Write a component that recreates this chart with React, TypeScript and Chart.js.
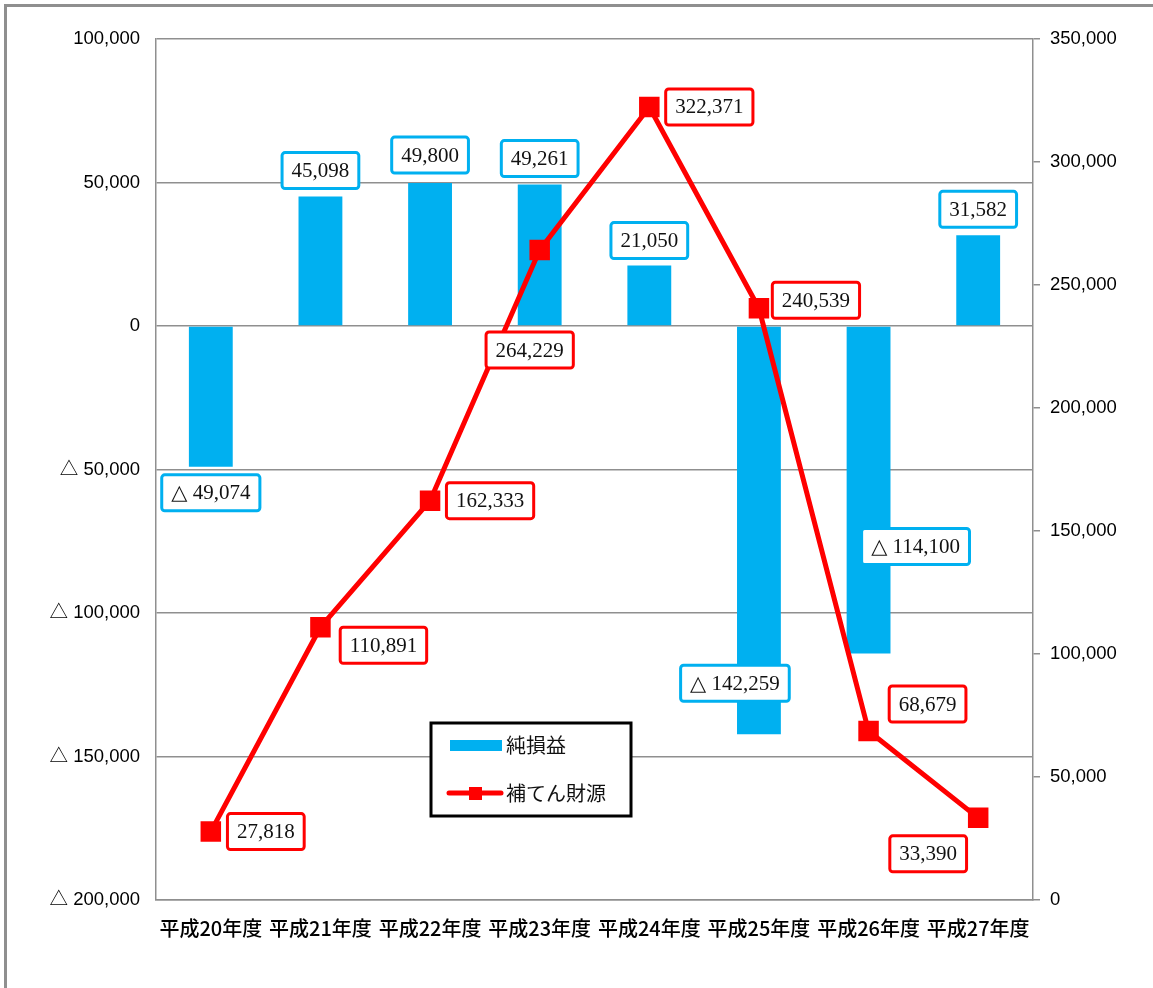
import React, { useEffect, useRef } from "react";
import { Chart, registerables } from "chart.js";

Chart.register(...registerables);

const categories = ["平成20年度", "平成21年度", "平成22年度", "平成23年度", "平成24年度", "平成25年度", "平成26年度", "平成27年度"];
const netProfit = [-49074, 45098, 49800, 49261, 21050, -142259, -114100, 31582];
const reserveFunds = [27818, 110891, 162333, 264229, 322371, 240539, 68679, 33390];
const leftTicks = [-200000, -150000, -100000, -50000, 0, 50000, 100000];
const rightTicks = [0, 50000, 100000, 150000, 200000, 250000, 300000, 350000];
const seriesNames = ["純損益", "補てん財源"];

// label offsets (pixels) relative to each mark
const barLabelOffsets = [[0, 26], [0, -26], [0, -28], [0, -26], [0, -25], [-24, -51], [47, -107], [0, -26]];
const lineLabelOffsets = [[55, 0], [63, 18], [60, 0], [-10, 100], [60, 0], [57, -8], [59, -27], [-50, 36]];

const BLUE = "#00B0F0";
const RED = "#FF0000";
const GRID = "#8f8f8f";

const fmt = (v: number) => {
  const s = Math.abs(v).toLocaleString("en-US");
  return v < 0 ? "△ " + s : s;
};

const labelPlugin = {
  id: "boxLabels",
  afterDatasetsDraw(chart: any) {
    const ctx = chart.ctx;
    const drawBox = (cx: number, cy: number, text: string, color: string) => {
      ctx.save();
      ctx.font = '21px "Liberation Serif", "DejaVu Serif", serif';
      const tw = ctx.measureText(text).width;
      const w = tw + 19;
      const h = 36;
      const x = cx - w / 2;
      const y = cy - h / 2;
      ctx.beginPath();
      if (ctx.roundRect) ctx.roundRect(x, y, w, h, 3);
      else ctx.rect(x, y, w, h);
      ctx.fillStyle = "#ffffff";
      ctx.fill();
      ctx.lineWidth = 3;
      ctx.strokeStyle = color;
      ctx.stroke();
      ctx.fillStyle = "#111111";
      ctx.textAlign = "center";
      ctx.textBaseline = "middle";
      ctx.fillText(text, cx, cy + 1);
      ctx.restore();
    };
    const barMeta = chart.getDatasetMeta(0);
    barMeta.data.forEach((el: any, i: number) => {
      const [dx, dy] = barLabelOffsets[i];
      drawBox(el.x + dx, el.y + dy, fmt(netProfit[i]), BLUE);
    });
    const lineMeta = chart.getDatasetMeta(1);
    lineMeta.data.forEach((el: any, i: number) => {
      const [dx, dy] = lineLabelOffsets[i];
      drawBox(el.x + dx, el.y + dy, fmt(reserveFunds[i]), RED);
    });

    // legend box
    ctx.save();
    const lx = 431, ly = 723, lw = 200, lh = 93;
    ctx.fillStyle = "#ffffff";
    ctx.fillRect(lx, ly, lw, lh);
    ctx.lineWidth = 3;
    ctx.strokeStyle = "#000000";
    ctx.strokeRect(lx, ly, lw, lh);
    ctx.fillStyle = BLUE;
    ctx.fillRect(450, 740, 52, 11);
    ctx.strokeStyle = RED;
    ctx.lineWidth = 5;
    ctx.lineCap = "round";
    ctx.beginPath();
    ctx.moveTo(449, 793);
    ctx.lineTo(501, 793);
    ctx.stroke();
    ctx.fillStyle = RED;
    ctx.fillRect(469, 787, 13, 13);
    ctx.fillStyle = "#111111";
    ctx.font = '20px "Noto Sans CJK JP", sans-serif';
    ctx.textAlign = "left";
    ctx.textBaseline = "middle";
    ctx.fillText(seriesNames[0], 506, 745);
    ctx.fillText(seriesNames[1], 506, 793);
    ctx.restore();
  },
};

export default function App() {
  const ref = useRef<HTMLCanvasElement | null>(null);
  useEffect(() => {
    if (!ref.current) return;
    const chart = new Chart(ref.current, {
      type: "bar",
      data: {
        labels: categories,
        datasets: [
          {
            type: "bar",
            label: seriesNames[0],
            data: netProfit,
            backgroundColor: BLUE,
            barPercentage: 0.4,
            categoryPercentage: 1.0,
            yAxisID: "y",
            order: 2,
          },
          {
            type: "line",
            label: seriesNames[1],
            data: reserveFunds,
            borderColor: RED,
            backgroundColor: RED,
            borderWidth: 5,
            pointStyle: "rect",
            pointRadius: 14.5,
            pointBorderWidth: 0,
            pointBackgroundColor: RED,
            tension: 0,
            yAxisID: "y2",
            order: 1,
          } as any,
        ],
      },
      options: {
        responsive: false,
        animation: false,
        layout: { padding: { left: 0, right: 0, top: 39, bottom: 0 } },
        plugins: { legend: { display: false }, tooltip: { enabled: false } },
        scales: {
          x: {
            grid: { display: false, drawTicks: false },
            border: { display: true, color: GRID, width: 1.5 },
            ticks: {
              color: "#000",
              font: { family: '"Noto Sans CJK JP", sans-serif', size: 20, weight: "500" },
              padding: 16,
              maxRotation: 0,
              autoSkip: false,
            },
            afterFit: (s: any) => { s.height = 88; },
          },
          y: {
            position: "left",
            min: -200000,
            max: 100000,
            afterBuildTicks: (s: any) => { s.ticks = leftTicks.map((v) => ({ value: v })); },
            grid: { color: GRID, lineWidth: 1.5, drawTicks: false },
            border: { display: true, color: GRID, width: 1.5 },
            ticks: {
              color: "#000",
              font: { family: '"Liberation Sans", "Noto Sans CJK JP", sans-serif', size: 18.5 },
              padding: 16,
              callback: (v: any) => fmt(Number(v)),
            },
            afterFit: (s: any) => { s.width = 156; },
          },
          y2: {
            position: "right",
            min: 0,
            max: 350000,
            afterBuildTicks: (s: any) => { s.ticks = rightTicks.map((v) => ({ value: v })); },
            grid: { drawOnChartArea: false, color: GRID, lineWidth: 1.5, tickLength: 7 },
            border: { display: true, color: GRID, width: 1.5 },
            ticks: {
              color: "#000",
              font: { family: '"Liberation Sans", "Noto Sans CJK JP", sans-serif', size: 18.5 },
              padding: 10,
              callback: (v: any) => fmt(Number(v)),
            },
            afterFit: (s: any) => { s.width = 120; },
          },
        },
      },
      plugins: [labelPlugin],
    });
    return () => chart.destroy();
  }, []);
  return (
    <div style={{ position: "absolute", left: 0, top: 0, width: 1153, height: 988, overflow: "hidden", background: "#fff" }}>
      <div style={{ position: "absolute", left: 4, top: 4, width: 1300, height: 1200, border: "3px solid #8f8f8f" }} />
      <canvas ref={ref} width={1153} height={988} style={{ position: "absolute", left: 0, top: 0, width: 1153, height: 988 }} />
    </div>
  );
}
